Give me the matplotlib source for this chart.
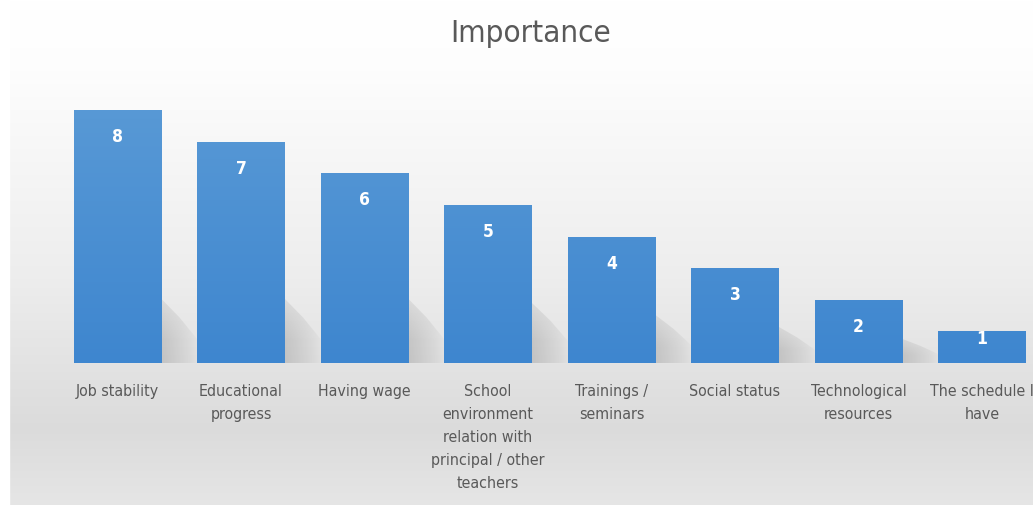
import numpy as np
import matplotlib.pyplot as plt
from matplotlib import font_manager
from matplotlib.colors import LinearSegmentedColormap
from matplotlib.patches import Polygon

# data
categories = ['Job stability', 'Educational\nprogress', 'Having wage',
              'School\nenvironment\nrelation with\nprincipal / other\nteachers',
              'Trainings /\nseminars', 'Social status', 'Technological\nresources',
              'The schedule I\nhave']
values = [8, 7, 6, 5, 4, 3, 2, 1]

# a narrow font like Calibri if there is one
names = {f.name for f in font_manager.fontManager.ttflist}
stretch = 'normal'
if 'Liberation Sans Narrow' in names:
    fnt = ['Liberation Sans Narrow', 'DejaVu Sans']
elif any('Condensed' in f.fname for f in font_manager.fontManager.ttflist if f.name == 'DejaVu Sans'):
    fnt = ['DejaVu Sans']
    stretch = 'condensed'
else:
    fnt = ['Lato', 'DejaVu Sans']

W, H = 1033, 505
fig = plt.figure(figsize=(W / 100, H / 100), dpi=100)

# background gradient (white on top, light gray lower)
bg = fig.add_axes([0, 0, 1, 1], zorder=0)
bg.set_axis_off()
yy = np.linspace(0, 1, 300)
gray = np.interp(yy, [0, 0.12, 0.55, 0.85, 1.0], [1.0, 0.995, 0.93, 0.86, 0.9])
img = np.repeat(gray[:, None], 10, axis=1)
bg.imshow(np.dstack([img, img, img]), aspect='auto', extent=(0, 1, 0, 1), origin='upper')
bg.axvspan(0, 9 / W, color='white')
bg.set_xlim(0, 1)
bg.set_ylim(0, 1)

# main axes placed so bar slots match the picture
slot = 123.5
c0 = 117.5
left_px = c0 - slot / 2
x_right = (W - c0) / slot
base_px = 363
unit = 31.6
ymax = 9
ax = fig.add_axes([left_px / W, (H - base_px) / H, (W - left_px) / W, ymax * unit / H], zorder=1)
ax.patch.set_alpha(0)
ax.set_xlim(-0.5, x_right)
ax.set_ylim(0, ymax)

x = np.arange(len(values))
bw = 0.705

# soft shadows in the gaps
for i, v in enumerate(values):
    if v < 2:
        continue
    xr = i + bw / 2
    sh = min(2.4, v * 0.45)
    poly = Polygon([(xr, 0), (xr, sh * 0.85), (xr + 0.15, sh * 0.6), (xr + 0.3, sh * 0.3), (xr + 0.3, 0)],
                   closed=True, facecolor='none', edgecolor='none')
    ax.add_patch(poly)
    gx = np.linspace(0, 1, 60)[None, :]
    gy = np.linspace(0, 1, 60)[:, None]
    shade = np.zeros((60, 60, 4))
    shade[..., :3] = 0.5
    shade[..., 3] = 0.32 * (1 - gx) ** 0.8 * np.clip(1.3 - gy, 0, 1)
    im = ax.imshow(shade, extent=(xr, xr + 0.3, 0, sh), aspect='auto', origin='lower',
                   interpolation='bilinear', zorder=1)
    im.set_clip_path(poly)

bars = ax.bar(x, values, width=bw, color='#4a8fd4', zorder=2)
cmap = LinearSegmentedColormap.from_list('b', ['#3e86cf', '#5b9bd6'])
grad = np.linspace(0, 1, 256)[:, None]
for b in bars:
    im = ax.imshow(grad, cmap=cmap, origin='lower', aspect='auto',
                   extent=(b.get_x(), b.get_x() + b.get_width(), 0, ymax),
                   vmin=0, vmax=1, zorder=3)
    im.set_clip_path(b)

for xi, v in zip(x, values):
    off = -27 if v * unit > 50 else -8
    ax.annotate(str(v), (xi, v), xytext=(0, off), textcoords='offset pixels',
                ha='center', va='center', color='white', fontsize=12.5,
                fontweight='bold', family=fnt, fontstretch=stretch, zorder=4)

ax.set_xticks(x)
ax.set_xticklabels(categories, fontsize=11.4, color='#595959', family=fnt,
                   fontstretch=stretch, linespacing=1.66)
ax.tick_params(axis='x', length=0, pad=15)
ax.set_yticks([])
for s in ax.spines.values():
    s.set_visible(False)

fig.text(531 / W, 1 - 33 / H, 'Importance', ha='center', va='center',
         fontsize=22.5, color='#595959', family=fnt, fontstretch=stretch)

fig.savefig('out.png', dpi=100)
